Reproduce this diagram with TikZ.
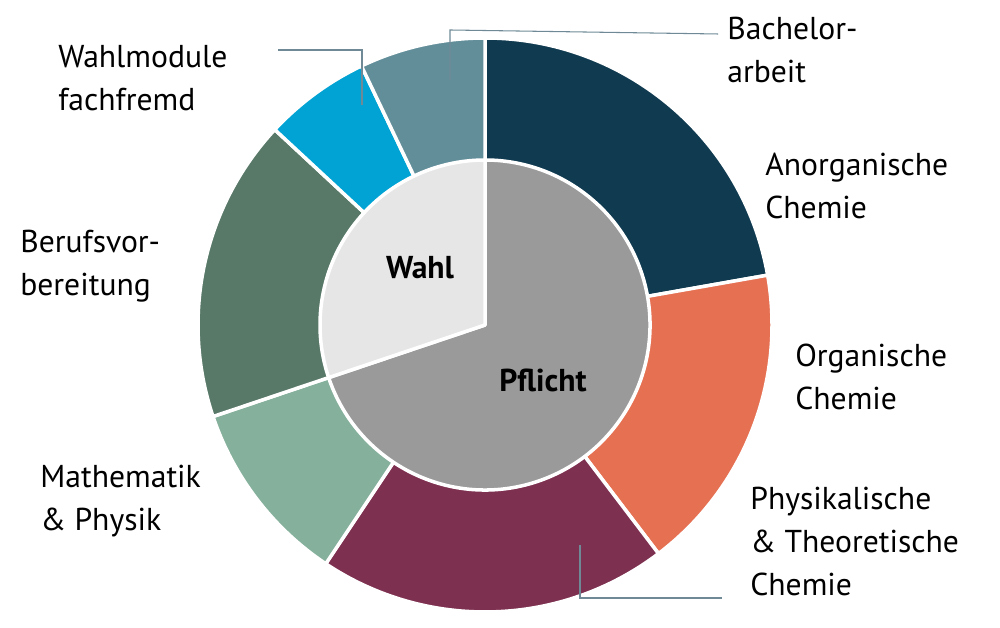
\documentclass[tikz,border=0pt]{standalone}
\usepackage{fontspec}
\setmainfont{PT Sans}
\definecolor{cNavy}{HTML}{0F3A50}
\definecolor{cOrange}{HTML}{E57052}
\definecolor{cMaroon}{HTML}{7E3050}
\definecolor{cLGreen}{HTML}{85B09C}
\definecolor{cDGreen}{HTML}{587868}
\definecolor{cCyan}{HTML}{00A3D3}
\definecolor{cGBlue}{HTML}{628E9A}
\definecolor{cGrey}{HTML}{9A9A9A}
\definecolor{cLGrey}{HTML}{E6E6E6}
\definecolor{cLead}{HTML}{6F8A96}
\begin{document}
\begin{tikzpicture}[x=0.02cm,y=0.02cm,
  seg/.style={draw=white,line width=2pt,line join=round},
  lab/.style={anchor=north west,align=left,font=\fontsize{18}{24.5}\selectfont,inner sep=0pt},
  big/.style={font=\bfseries\fontsize{18}{22}\selectfont,inner sep=0pt},
  lead/.style={draw=cLead,line width=0.6pt}]
\useasboundingbox (0,0) rectangle (1000,628);
\begin{scope}[shift={(485,303)}]
\newcommand{\myslice}[4]{\fill[#4,seg] (0,0) -- (#1:#3) arc[start angle=#1,end angle=#2,radius=#3] -- cycle;}
\myslice{10}{90}{287}{cNavy}
\myslice{-52.8}{10}{287}{cOrange}
\myslice{-123.7}{-52.8}{287}{cMaroon}
\myslice{-161.4}{-123.7}{287}{cLGreen}
\myslice{137.1}{198.6}{287}{cDGreen}
\myslice{115.5}{137.1}{287}{cCyan}
\myslice{90}{115.5}{287}{cGBlue}
\myslice{-161.4}{90}{165}{cGrey}
\myslice{90}{198.6}{165}{cLGrey}
\coordinate (c) at (0,0);
\end{scope}
\node[big] (wahl) at (420,360) {Wahl};
\node[big] (pflicht) at (543,248) {Pflicht};
\node[lab] (bach) at (727,611) {Bachelor-\\arbeit};
\node[lab] (anorg) at (765,475) {Anorganische\\Chemie};
\node[lab] (org) at (795,284) {Organische\\Chemie};
\node[lab] (phys) at (750,141) {Physikalische\\\& Theoretische\\Chemie};
\node[lab] (math) at (40,163) {Mathematik\\\& Physik};
\node[lab] (beruf) at (20,398) {Berufsvor-\\bereitung};
\node[lab] (wmod) at (58,583) {Wahlmodule\\fachfremd};
\coordinate (b1) at (450,548);
\coordinate (b2) at (450,598);
\coordinate (b3) at (718,594);
\draw[lead] (b1) -- (b2) -- (b3);
\coordinate (w1) at (278,578);
\coordinate (w2) at (362,578);
\coordinate (w3) at (362,523);
\draw[lead] (w1) -- (w2) -- (w3);
\coordinate (p1) at (580,83);
\coordinate (p2) at (580,30);
\coordinate (p3) at (722,30);
\draw[lead] (p1) -- (p2) -- (p3);
\end{tikzpicture}
\end{document}
